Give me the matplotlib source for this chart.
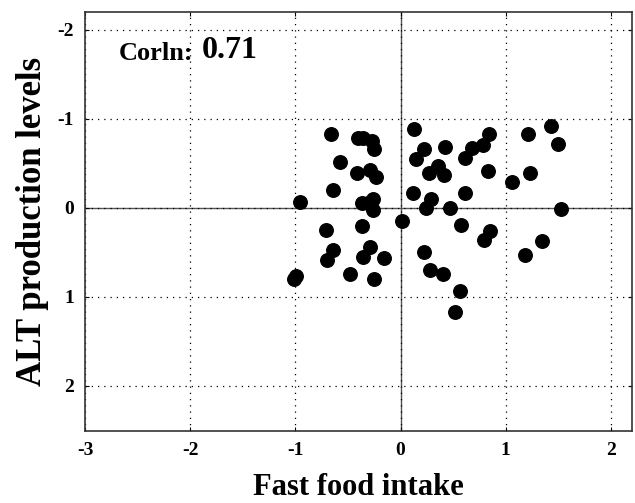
import numpy as np
from matplotlib import pyplot as plt

# fast food intake (x) vs ALT production levels (y)
intake = [-0.66, -0.40, -0.36, -0.27, -0.25, -0.58, -0.41, -0.29, -0.23, -0.64,
          -0.96, -0.37, -0.31, -0.26, -0.26, -0.71, -0.37, 0.01, -0.64, -0.70,
          -0.29, -0.36, -0.16, -0.48, -0.25, -0.99, -1.01,
          0.13, 0.22, 0.15, 0.42, 0.27, 0.36, 0.41, 0.12, 0.29, 0.24, 0.47,
          0.84, 0.78, 0.68, 0.61, 1.21, 1.43, 1.50, 0.83, 1.23, 1.06, 0.61,
          1.53, 0.58, 0.85, 0.79, 1.35, 1.18, 0.22, 0.28, 0.40, 0.57, 0.52]
alt_level = [-0.83, -0.79, -0.78, -0.75, -0.66, -0.52, -0.39, -0.43, -0.35, -0.20,
             -0.06, -0.05, -0.05, -0.10, 0.03, 0.25, 0.21, 0.15, 0.47, 0.59,
             0.44, 0.55, 0.57, 0.74, 0.80, 0.77, 0.80,
             -0.88, -0.66, -0.55, -0.68, -0.39, -0.47, -0.37, -0.17, -0.10, 0.00, 0.00,
             -0.83, -0.71, -0.67, -0.56, -0.83, -0.92, -0.72, -0.41, -0.39, -0.29, -0.17,
             0.01, 0.19, 0.26, 0.36, 0.37, 0.53, 0.50, 0.70, 0.74, 0.94, 1.17]

x_ticks = [-3, -2, -1, 0, 1, 2]
y_ticks = [-2, -1, 0, 1, 2]
corr_value = 0.71


def main():
    plt.rcParams["font.family"] = "Liberation Serif"
    plt.rcParams["font.weight"] = "bold"
    plt.rcParams["axes.unicode_minus"] = False

    fig = plt.figure(figsize=(6.35, 5.03), dpi=100)
    ax = fig.add_axes([0.134, 0.143, 0.861, 0.833])

    ax.axhline(0, color="#555555", linewidth=1.0, zorder=1)
    ax.axvline(0, color="#555555", linewidth=1.0, zorder=1)
    ax.scatter(intake, alt_level, s=95, color="black", zorder=3)

    ax.set_xlim(-3, 2.2)
    ax.set_ylim(2.51, -2.2)
    ax.set_xticks(x_ticks)
    ax.set_yticks(y_ticks)
    ax.grid(True, linestyle=(0, (1, 4)), color="black", linewidth=0.9)
    ax.tick_params(direction="in", length=3, labelsize=14, top=True, right=True,
                   pad=8)
    for lab in ax.get_xticklabels() + ax.get_yticklabels():
        lab.set_fontweight("bold")
    for s in ax.spines.values():
        s.set_linewidth(1.2)
        s.set_color("#333333")

    ax.set_xlabel("Fast food intake", fontsize=22, fontweight="bold", labelpad=10)
    ax.set_ylabel("ALT production levels", fontsize=25, fontweight="bold", labelpad=6)

    t1 = ax.text(-2.68, -1.66, "Corln:", fontsize=19, fontweight="bold",
                 va="baseline")
    ax.annotate("{:.2f}".format(corr_value), xy=(1, 0), xycoords=t1,
                xytext=(6, 0), textcoords="offset points", fontsize=23,
                fontweight="bold", va="bottom")

    fig.savefig("out.png", dpi=100)


if __name__ == '__main__':
    main()
